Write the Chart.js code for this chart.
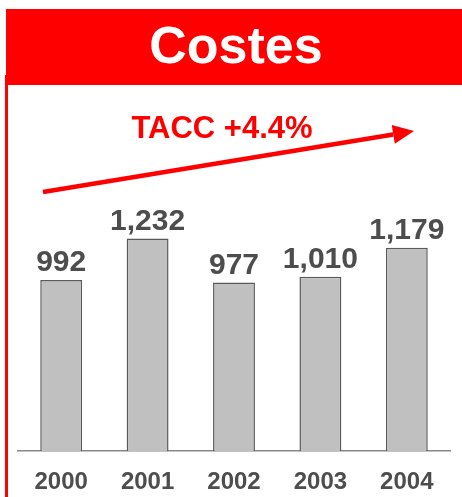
<!DOCTYPE html>
<html>
<head>
<meta charset="utf-8">
<script src="https://cdn.jsdelivr.net/npm/chart.js@4/dist/chart.umd.min.js"></script>
<style>
  html, body { margin: 0; padding: 0; background: #fff; }
  #wrap { width: 462px; height: 497px; position: relative; }
</style>
</head>
<body>
<div id="wrap"><canvas id="chart"></canvas></div>
<script>
// datos
const years = ["2000", "2001", "2002", "2003", "2004"];
const costes = [992, 1232, 977, 1010, 1179];
const titleText = "Costes";
const growthText = "TACC +4.4%";

const RED = "#ff0000";
const DARK = "#4d4d4d";

// banner, linea roja, flecha y etiquetas
const decoPlugin = {
    id: "deco",
    afterDraw(chart) {
        const ctx = chart.ctx;
        ctx.save();

        // banner
        ctx.fillStyle = RED;
        ctx.fillRect(6, 9, 456, 76);
        ctx.fillStyle = "#fff";
        ctx.font = "bold 52px 'Liberation Sans', Arial, sans-serif";
        ctx.textAlign = "center";
        ctx.textBaseline = "middle";
        ctx.fillText(titleText, 236, 49);

        // linea vertical izquierda
        ctx.fillStyle = RED;
        ctx.fillRect(5, 75, 3, 422);

        // flecha
        const x1 = 43, y1 = 192, x2 = 414, y2 = 131;
        const ang = Math.atan2(y2 - y1, x2 - x1);
        const headLen = 21, headW = 9.5;
        const bx = x2 - headLen * Math.cos(ang), by = y2 - headLen * Math.sin(ang);
        ctx.strokeStyle = RED;
        ctx.lineWidth = 4.5;
        ctx.beginPath();
        ctx.moveTo(x1, y1);
        ctx.lineTo(bx, by);
        ctx.stroke();
        ctx.beginPath();
        ctx.moveTo(x2, y2);
        ctx.lineTo(bx + headW * Math.sin(ang), by - headW * Math.cos(ang));
        ctx.lineTo(bx - headW * Math.sin(ang), by + headW * Math.cos(ang));
        ctx.closePath();
        ctx.fill();

        ctx.font = "bold 31px 'Liberation Sans', Arial, sans-serif";
        ctx.textBaseline = "alphabetic";
        ctx.fillText(growthText, 222, 138);

        // valores sobre las barras
        const meta = chart.getDatasetMeta(0);
        ctx.fillStyle = DARK;
        ctx.font = "bold 30px 'Liberation Sans', Arial, sans-serif";
        meta.data.forEach((bar, i) => {
            ctx.fillText(costes[i].toLocaleString("en-US"), bar.x, bar.y - 9);
        });

        ctx.restore();
    }
};

new Chart(document.getElementById("chart"), {
    type: "bar",
    data: {
        labels: years,
        datasets: [{
            data: costes,
            backgroundColor: "#c0c0c0",
            borderColor: "#5a5a5a",
            borderWidth: 1.5,
            barPercentage: 0.485,
            categoryPercentage: 1
        }]
    },
    options: {
        responsive: true,
        maintainAspectRatio: false,
        animation: false,
        layout: { padding: { left: 18, right: 12, top: 175, bottom: -17 } },
        plugins: {
            legend: { display: false },
            tooltip: { enabled: false }
        },
        scales: {
            x: {
                grid: { display: true, drawOnChartArea: false, drawTicks: false },
                border: { display: true, color: "#888888", width: 1.5 },
                ticks: {
                    color: DARK,
                    padding: 17,
                    font: { size: 24, weight: "bold", family: "'Liberation Sans', Arial, sans-serif" }
                }
            },
            y: {
                display: false,
                min: 0,
                max: 1600
            }
        }
    },
    plugins: [decoPlugin]
});
</script>
</body>
</html>
